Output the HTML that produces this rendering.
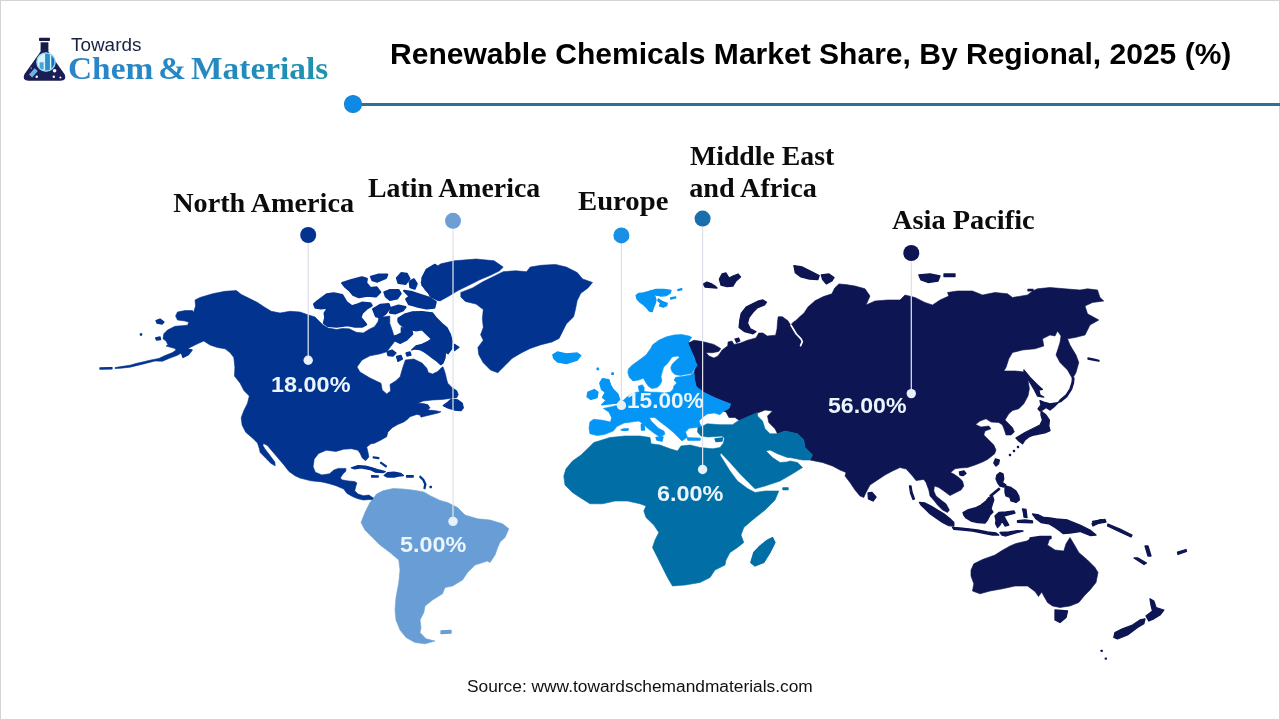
<!DOCTYPE html>
<html lang="en">
<head>
<meta charset="utf-8">
<title>Renewable Chemicals Market Share, By Regional, 2025 (%)</title>
<style>
html,body{margin:0;padding:0;background:#fff;}
body{width:1280px;height:720px;position:relative;overflow:hidden;font-family:"Liberation Sans",sans-serif;}
#frame{position:absolute;left:0;top:0;width:1278px;height:718px;border:1px solid #d4d4d4;}
#map{position:absolute;left:0;top:0;width:1280px;height:720px;}
.t{position:absolute;white-space:nowrap;line-height:1;transform-origin:0 0;}
#title{font-weight:bold;font-family:"Liberation Sans",sans-serif;color:#000;}
#rule{position:absolute;left:353px;top:102.8px;width:927px;height:3.1px;background:#2a7298;}
#ruledot{position:absolute;left:344.1px;top:95.1px;width:16.4px;height:15.6px;border-radius:50%;background:#0d8ae5;border:1px solid #1d7fca;}
.lab{font-weight:bold;font-family:"Liberation Serif",serif;color:#0c0c0c;}
.pct{font-weight:bold;font-family:"Liberation Sans",sans-serif;color:#eaf5fd;}
#src{font-family:"Liberation Sans",sans-serif;color:#111;}
#towards{font-family:"Liberation Sans",sans-serif;color:#1b2140;}
#brand{word-spacing:-0.1em;font-weight:bold;font-family:"Liberation Serif",serif;background:linear-gradient(90deg,#2b85c8 0%,#2489bf 60%,#1f93ac 100%);-webkit-background-clip:text;background-clip:text;color:transparent;}
</style>
</head>
<body>
<div id="frame"></div>
<svg id="map" viewBox="0 0 1280 720" width="1280" height="720">
<g id="land">
<path d="M688.4,337.2 L688.4,343.0 L694.0,340.2 L702.5,341.6 L713.8,344.4 L720.8,348.6 L718.7,351.4 L712.3,352.8 L706.0,352.5 L709.0,356.1 L714.0,358.0 L718.0,356.0 L722.2,350.0 L727.8,345.8 L728.0,342.0 L732.0,341.0 L734.0,344.4 L740.5,343.0 L747.5,340.2 L755.9,338.0 L758.8,333.0 L763.0,333.0 L767.2,336.0 L775.6,335.2 L777.0,329.0 L777.5,322.0 L778.2,316.7 L782.4,316.7 L787.9,320.8 L790.5,325.0 L794.0,321.5 L795.6,320.8 L800.0,316.5 L803.9,313.2 L808.0,306.9 L815.0,300.8 L823.4,296.6 L831.9,293.8 L834.7,288.0 L838.9,283.9 L845.9,284.6 L855.0,286.0 L865.0,288.8 L870.0,296.0 L866.0,305.0 L875.0,301.0 L887.5,300.0 L900.0,300.0 L905.0,295.0 L915.0,297.5 L925.0,302.5 L932.5,305.0 L940.0,300.0 L948.8,296.0 L947.5,292.5 L957.5,291.0 L972.5,291.0 L982.5,295.0 L995.0,292.5 L1007.5,293.8 L1012.5,297.5 L1027.5,295.0 L1032.5,291.0 L1037.5,288.8 L1050.0,287.5 L1065.0,288.8 L1080.0,290.0 L1087.5,288.8 L1097.5,290.0 L1100.0,297.5 L1103.8,301.0 L1092.5,302.5 L1085.0,306.0 L1087.5,313.8 L1098.8,320.0 L1090.0,325.0 L1085.0,335.0 L1075.0,337.5 L1067.5,338.8 L1070.0,345.0 L1076.0,355.0 L1078.8,362.5 L1076.0,372.5 L1072.5,378.8 L1067.5,370.0 L1060.0,362.5 L1056.0,355.0 L1060.0,342.5 L1061.0,336.0 L1057.5,331.0 L1055.0,336.0 L1050.0,335.0 L1042.5,338.8 L1043.8,346.0 L1035.0,348.8 L1022.5,350.0 L1012.5,352.5 L1008.8,358.8 L1006.0,367.5 L1003.8,371.0 L1015.0,371.0 L1025.0,372.0 L1028.0,380.0 L1029.4,388.8 L1028.0,396.0 L1023.8,403.8 L1018.8,408.8 L1012.5,410.6 L1008.8,413.8 L1005.0,420.0 L1008.8,423.8 L1012.5,427.5 L1014.4,432.0 L1011.0,435.0 L1006.0,435.0 L1004.4,430.0 L1002.5,425.0 L998.8,422.5 L991.0,422.0 L986.0,418.8 L980.0,421.0 L975.6,424.4 L981.0,427.0 L988.8,426.0 L991.0,428.8 L985.0,431.0 L983.8,435.0 L988.8,440.0 L993.8,445.0 L996.0,450.0 L994.5,454.0 L992.5,455.5 L987.5,459.4 L982.5,462.0 L975.0,465.0 L967.5,467.5 L960.0,468.0 L955.0,468.8 L950.6,472.5 L953.8,474.0 L958.8,477.5 L962.5,481.0 L963.8,486.0 L961.0,490.0 L955.0,493.0 L950.0,495.6 L943.8,491.0 L938.8,487.5 L934.4,486.0 L933.8,491.0 L936.0,496.0 L941.0,500.0 L946.0,503.8 L949.4,510.0 L947.5,512.5 L942.5,510.0 L937.5,505.0 L934.4,501.0 L930.0,496.0 L928.8,490.0 L926.0,482.5 L923.8,479.4 L916.0,480.6 L912.5,476.0 L906.0,468.8 L905.0,468.8 L900.0,467.5 L892.5,471.0 L885.0,475.0 L877.5,480.0 L870.0,485.0 L866.0,492.5 L863.8,497.5 L860.0,496.0 L855.0,490.0 L850.0,482.5 L845.0,476.0 L846.0,472.5 L840.0,470.0 L832.5,466.0 L822.5,462.5 L810.0,460.0 L812.5,455.0 L805.0,447.5 L803.8,440.0 L797.5,433.8 L785.0,431.0 L777.5,433.8 L775.0,428.8 L768.8,422.5 L767.5,416.0 L772.5,411.0 L765.0,410.0 L757.5,413.0 L748.0,417.0 L740.0,421.0 L735.0,417.5 L728.9,417.5 L726.0,412.0 L723.5,411.2 L728.9,408.5 L730.7,403.9 L723.5,401.2 L714.4,397.6 L703.6,392.2 L696.4,386.8 L694.6,379.6 L694.0,372.4 L696.4,365.1 L694.6,357.9 L691.0,350.7 L688.3,343.5Z" fill="#0e1553" stroke="#0e1553" stroke-width="0.6" stroke-linejoin="round"/>
<path d="M763.0,300.0 L766.5,302.2 L764.4,305.0 L757.3,307.8 L753.1,312.0 L748.9,317.7 L747.5,323.3 L750.3,328.9 L755.9,331.7 L753.1,333.8 L744.7,331.7 L739.1,327.5 L739.8,320.5 L741.2,313.4 L746.1,307.1 L753.1,303.6 L758.8,300.8Z" fill="#0e1553" stroke="#0e1553" stroke-width="1.3" stroke-linejoin="round"/>
<path d="M735.0,339.0 L738.5,338.0 L739.8,341.0 L736.5,342.3Z" fill="#0e1553" stroke="#0e1553" stroke-width="1.3" stroke-linejoin="round"/>
<path d="M703.2,284.0 L707.0,282.0 L711.0,283.5 L715.0,286.0 L717.0,288.0 L711.0,287.5 L705.0,287.0Z" fill="#0e1553" stroke="#0e1553" stroke-width="1.3" stroke-linejoin="round"/>
<path d="M719.4,279.0 L722.0,274.0 L726.0,273.0 L729.0,278.0 L733.0,276.0 L738.0,274.0 L740.5,277.0 L736.0,281.0 L733.0,286.0 L727.0,286.5 L721.0,285.0Z" fill="#0e1553" stroke="#0e1553" stroke-width="1.3" stroke-linejoin="round"/>
<path d="M793.9,265.6 L802.3,267.0 L810.8,271.3 L819.2,275.5 L817.8,279.7 L809.4,279.0 L800.9,276.9 L795.3,272.7Z" fill="#0e1553" stroke="#0e1553" stroke-width="1.3" stroke-linejoin="round"/>
<path d="M821.3,274.8 L829.0,274.0 L834.0,277.6 L831.9,281.0 L826.3,283.9 L822.7,279.7Z" fill="#0e1553" stroke="#0e1553" stroke-width="1.3" stroke-linejoin="round"/>
<path d="M918.8,275.0 L930.0,273.8 L940.0,276.0 L938.0,281.0 L928.0,282.5 L921.0,280.0Z" fill="#0e1553" stroke="#0e1553" stroke-width="1.3" stroke-linejoin="round"/>
<path d="M944.0,274.0 L955.0,274.0 L955.0,276.5 L944.0,276.5Z" fill="#0e1553" stroke="#0e1553" stroke-width="1.3" stroke-linejoin="round"/>
<path d="M1023.8,370.0 L1030.0,377.5 L1037.5,385.0 L1042.5,389.4 L1038.8,390.0 L1040.0,395.0 L1043.8,397.0 L1037.5,396.0 L1033.8,388.8 L1030.0,382.5 L1026.0,376.0Z" fill="#0e1553" stroke="#0e1553" stroke-width="1.3" stroke-linejoin="round"/>
<path d="M1058.8,402.0 L1060.0,400.0 L1066.0,395.0 L1070.0,388.8 L1072.0,382.5 L1072.5,377.5 L1074.0,378.0 L1073.5,383.0 L1071.5,389.5 L1067.0,396.5 L1061.0,401.5Z" fill="#0e1553" stroke="#0e1553" stroke-width="1.3" stroke-linejoin="round"/>
<path d="M1040.0,400.6 L1045.0,402.5 L1050.0,403.8 L1056.0,403.0 L1058.8,402.0 L1053.8,407.0 L1050.0,410.0 L1046.0,407.5 L1042.5,410.0 L1040.0,411.0 L1038.0,408.8 L1041.0,405.0Z" fill="#0e1553" stroke="#0e1553" stroke-width="1.3" stroke-linejoin="round"/>
<path d="M1041.0,411.0 L1046.0,415.0 L1049.4,420.0 L1048.8,426.0 L1050.0,430.6 L1046.0,432.5 L1040.0,433.8 L1033.8,435.0 L1028.8,437.0 L1025.0,440.0 L1022.5,443.8 L1018.8,441.0 L1016.0,438.0 L1020.0,435.6 L1025.0,432.5 L1030.0,430.0 L1035.0,427.5 L1040.0,425.0 L1042.5,420.0 L1041.0,415.0Z" fill="#0e1553" stroke="#0e1553" stroke-width="1.3" stroke-linejoin="round"/>
<path d="M995.5,458.8 L999.4,460.0 L998.5,464.0 L996.0,466.0 L993.8,463.0Z" fill="#0e1553" stroke="#0e1553" stroke-width="1.3" stroke-linejoin="round"/>
<path d="M959.4,472.0 L964.0,471.0 L966.0,473.5 L963.0,475.6 L960.0,475.0Z" fill="#0e1553" stroke="#0e1553" stroke-width="1.3" stroke-linejoin="round"/>
<path d="M868.0,493.0 L872.0,492.5 L876.0,497.0 L873.0,501.0 L868.5,499.0Z" fill="#0e1553" stroke="#0e1553" stroke-width="1.3" stroke-linejoin="round"/>
<path d="M996.9,475.0 L1000.0,472.5 L1003.0,473.8 L1003.8,478.8 L1002.5,482.5 L1006.0,485.0 L1003.8,487.0 L1000.0,486.0 L997.5,482.5 L996.0,478.8Z" fill="#0e1553" stroke="#0e1553" stroke-width="1.3" stroke-linejoin="round"/>
<path d="M1005.0,486.0 L1011.0,487.5 L1016.0,491.0 L1018.8,496.0 L1019.4,500.0 L1016.0,502.5 L1011.0,501.0 L1010.0,497.5 L1006.0,496.0 L1005.0,492.5Z" fill="#0e1553" stroke="#0e1553" stroke-width="1.3" stroke-linejoin="round"/>
<path d="M998.8,488.3 L999.8,489.3 L991.0,496.5 L990.0,495.5Z" fill="#0e1553" stroke="#0e1553" stroke-width="1.3" stroke-linejoin="round"/>
<path d="M963.0,512.5 L967.5,510.0 L975.0,508.0 L981.0,505.0 L986.0,501.0 L988.8,497.5 L992.5,496.0 L993.8,500.0 L992.5,503.8 L991.0,508.8 L993.0,512.0 L990.0,515.0 L987.5,520.0 L985.0,523.0 L977.5,522.5 L971.0,521.0 L966.0,518.0 L963.8,515.0Z" fill="#0e1553" stroke="#0e1553" stroke-width="1.3" stroke-linejoin="round"/>
<path d="M919.4,502.5 L925.0,503.0 L931.0,506.0 L937.5,510.0 L943.8,513.8 L950.0,518.8 L953.8,522.5 L953.8,526.0 L948.8,525.6 L942.5,522.5 L936.0,518.0 L930.0,513.8 L925.0,508.8 L921.0,505.0Z" fill="#0e1553" stroke="#0e1553" stroke-width="1.3" stroke-linejoin="round"/>
<path d="M952.5,527.5 L960.0,528.0 L968.8,528.8 L977.5,530.0 L987.5,532.0 L996.0,533.0 L998.8,535.0 L992.5,535.0 L982.5,533.0 L972.5,531.0 L962.5,530.0 L953.8,529.4Z" fill="#0e1553" stroke="#0e1553" stroke-width="1.3" stroke-linejoin="round"/>
<path d="M1000.0,532.5 L1008.8,532.0 L1017.5,530.6 L1023.0,531.0 L1012.5,533.8 L1006.0,536.0 L1002.0,535.0Z" fill="#0e1553" stroke="#0e1553" stroke-width="1.3" stroke-linejoin="round"/>
<path d="M1030.0,538.0 L1040.0,536.5 L1051.0,536.5 L1051.0,538.5 L1040.0,539.0 L1030.0,539.5Z" fill="#0e1553" stroke="#0e1553" stroke-width="1.3" stroke-linejoin="round"/>
<path d="M995.0,516.0 L998.8,512.5 L1006.0,512.0 L1014.0,511.0 L1015.0,513.0 L1007.5,515.0 L1003.8,516.0 L1006.0,520.0 L1008.8,525.0 L1005.0,526.0 L1002.0,521.0 L1000.0,525.0 L997.5,527.5 L995.6,523.8 L996.0,520.0Z" fill="#0e1553" stroke="#0e1553" stroke-width="1.3" stroke-linejoin="round"/>
<path d="M1022.5,509.0 L1026.0,509.5 L1027.0,517.5 L1024.0,517.0 L1023.5,513.0Z" fill="#0e1553" stroke="#0e1553" stroke-width="1.3" stroke-linejoin="round"/>
<path d="M1017.5,520.6 L1025.0,520.0 L1032.5,521.0 L1032.5,522.8 L1024.0,522.5 L1017.5,522.3Z" fill="#0e1553" stroke="#0e1553" stroke-width="1.3" stroke-linejoin="round"/>
<path d="M1032.5,514.0 L1038.8,515.0 L1043.8,517.5 L1050.0,518.0 L1056.0,518.8 L1067.5,520.0 L1080.0,525.0 L1090.0,530.0 L1096.0,535.0 L1090.0,535.5 L1080.0,531.5 L1070.0,533.0 L1063.0,533.5 L1060.0,531.0 L1055.0,527.5 L1048.8,523.8 L1041.0,522.5 L1036.0,518.8Z" fill="#0e1553" stroke="#0e1553" stroke-width="1.3" stroke-linejoin="round"/>
<path d="M1092.5,521.5 L1105.0,519.5 L1106.0,522.0 L1094.0,524.0Z" fill="#0e1553" stroke="#0e1553" stroke-width="1.3" stroke-linejoin="round"/>
<path d="M1108.0,524.0 L1120.0,529.0 L1132.0,535.0 L1131.0,537.0 L1119.0,531.5 L1107.5,526.0Z" fill="#0e1553" stroke="#0e1553" stroke-width="1.3" stroke-linejoin="round"/>
<path d="M1145.0,546.0 L1148.0,546.0 L1151.0,556.0 L1148.0,556.0Z" fill="#0e1553" stroke="#0e1553" stroke-width="1.3" stroke-linejoin="round"/>
<path d="M1134.0,558.0 L1138.0,558.0 L1146.5,563.0 L1144.0,564.5Z" fill="#0e1553" stroke="#0e1553" stroke-width="1.3" stroke-linejoin="round"/>
<path d="M1177.5,552.0 L1186.0,549.5 L1186.5,551.5 L1178.0,554.5Z" fill="#0e1553" stroke="#0e1553" stroke-width="1.3" stroke-linejoin="round"/>
<path d="M971.0,570.0 L973.8,563.8 L982.5,559.5 L995.0,555.0 L1002.0,550.5 L1010.0,546.0 L1016.0,543.5 L1026.7,541.0 L1032.0,537.8 L1040.0,537.6 L1050.0,537.8 L1047.5,545.0 L1055.0,550.0 L1063.8,551.0 L1066.0,543.8 L1070.0,537.5 L1073.8,543.8 L1078.8,552.5 L1087.5,560.0 L1095.0,567.5 L1098.0,572.5 L1096.0,582.5 L1090.0,590.0 L1085.0,595.0 L1078.8,602.5 L1070.0,606.0 L1060.0,607.5 L1052.5,606.0 L1047.5,602.5 L1043.8,596.0 L1041.8,592.0 L1038.5,596.5 L1035.0,591.5 L1027.5,586.0 L1015.0,586.0 L1002.5,588.8 L990.0,591.0 L980.0,593.8 L972.5,591.0 L973.8,583.8 L971.0,576.0Z" fill="#0e1553" stroke="#0e1553" stroke-width="0.6" stroke-linejoin="round"/>
<path d="M1055.0,610.0 L1067.5,611.0 L1066.0,617.5 L1060.0,622.5 L1055.0,620.0Z" fill="#0e1553" stroke="#0e1553" stroke-width="1.3" stroke-linejoin="round"/>
<path d="M1150.0,598.8 L1153.8,601.0 L1156.0,607.5 L1163.8,610.0 L1160.0,615.0 L1153.8,618.8 L1148.8,621.0 L1146.0,616.0 L1152.5,611.0 L1151.0,605.0Z" fill="#0e1553" stroke="#0e1553" stroke-width="1.3" stroke-linejoin="round"/>
<path d="M1145.0,618.8 L1143.8,623.8 L1137.5,627.5 L1127.5,635.0 L1117.5,639.0 L1113.8,637.5 L1115.0,632.5 L1122.5,628.8 L1132.5,625.0 L1140.0,620.0Z" fill="#0e1553" stroke="#0e1553" stroke-width="1.3" stroke-linejoin="round"/>
<path d="M1101.2,650.3 L1102.2,650.3 L1102.2,651.3 L1101.2,651.3Z" fill="#0e1553" stroke="#0e1553" stroke-width="1.3" stroke-linejoin="round"/>
<path d="M1105.3,658.1 L1106.3,658.1 L1106.3,659.1 L1105.3,659.1Z" fill="#0e1553" stroke="#0e1553" stroke-width="1.3" stroke-linejoin="round"/>
<path d="M909.5,486.0 L911.0,486.0 L912.0,492.0 L914.5,499.0 L913.0,499.5 L910.5,493.0Z" fill="#0e1553" stroke="#0e1553" stroke-width="1.3" stroke-linejoin="round"/>
<path d="M1092.0,523.5 L1096.0,521.0 L1101.0,519.5 L1104.0,520.5 L1100.0,522.5 L1096.0,524.5 L1093.0,526.0Z" fill="#0e1553" stroke="#0e1553" stroke-width="1.3" stroke-linejoin="round"/>
<path d="M1017.5,446.5 L1018.5,446.5 L1018.5,447.5 L1017.5,447.5Z" fill="#0e1553" stroke="#0e1553" stroke-width="1.3" stroke-linejoin="round"/>
<path d="M1013.5,450.5 L1014.5,450.5 L1014.5,451.5 L1013.5,451.5Z" fill="#0e1553" stroke="#0e1553" stroke-width="1.3" stroke-linejoin="round"/>
<path d="M1009.5,454.5 L1010.5,454.5 L1010.5,455.5 L1009.5,455.5Z" fill="#0e1553" stroke="#0e1553" stroke-width="1.3" stroke-linejoin="round"/>
<path d="M1088.0,358.0 L1093.0,359.0 L1099.0,360.4 L1099.0,361.2 L1093.0,360.0 L1088.0,359.0Z" fill="#0e1553" stroke="#0e1553" stroke-width="1.3" stroke-linejoin="round"/>
<path d="M1028.0,289.5 L1033.0,289.3 L1033.0,290.6 L1028.0,290.8Z" fill="#0e1553" stroke="#0e1553" stroke-width="1.3" stroke-linejoin="round"/>
<path d="M598.8,441.0 L610.0,437.5 L625.0,436.0 L640.0,436.0 L650.0,437.5 L651.0,443.8 L660.0,445.0 L670.0,448.8 L677.5,451.0 L681.0,446.0 L690.0,445.0 L700.0,447.5 L712.5,448.8 L720.0,447.5 L723.5,443.0 L724.4,438.0 L722.0,436.0 L716.0,436.5 L708.0,437.0 L701.0,436.0 L697.5,432.0 L698.0,427.0 L701.8,426.5 L707.2,423.8 L719.9,424.7 L732.5,424.7 L737.9,421.1 L748.0,416.5 L757.5,412.5 L757.5,416.0 L762.5,421.0 L765.0,428.8 L770.0,433.8 L777.5,433.8 L785.0,431.0 L797.5,433.8 L803.8,440.0 L805.0,447.5 L812.5,455.0 L810.0,460.0 L802.5,460.0 L790.0,457.5 L787.5,457.5 L777.5,453.8 L770.0,450.0 L766.0,451.0 L772.5,457.5 L780.0,462.5 L787.0,462.0 L790.0,461.0 L797.5,462.5 L802.5,467.5 L792.5,473.8 L780.0,481.0 L765.0,486.0 L755.0,488.8 L750.0,483.8 L740.0,473.8 L730.0,462.5 L721.0,453.0 L720.0,455.0 L722.5,459.0 L730.0,471.0 L737.5,481.0 L747.5,488.5 L755.0,492.5 L765.0,491.0 L778.8,491.0 L775.0,500.0 L765.0,510.0 L752.5,520.0 L743.8,527.5 L741.0,535.0 L743.8,542.5 L737.5,547.5 L730.0,552.5 L726.0,560.0 L725.0,565.0 L715.0,570.0 L710.0,577.5 L700.0,582.5 L685.0,585.0 L672.5,586.0 L667.5,577.5 L662.5,567.5 L657.5,557.5 L652.5,547.5 L655.0,540.0 L658.8,532.5 L653.8,525.0 L646.0,517.5 L643.8,511.0 L646.0,506.0 L640.0,503.8 L627.5,501.0 L615.0,501.0 L602.5,503.8 L590.0,503.8 L580.0,497.5 L572.5,492.5 L565.0,485.0 L563.8,476.0 L566.0,468.8 L572.5,461.0 L581.0,455.0 L588.8,447.5 L593.8,442.5Z" fill="#026ea6" stroke="#026ea6" stroke-width="0.6" stroke-linejoin="round"/>
<path d="M772.5,537.5 L775.0,542.5 L770.0,552.5 L763.8,562.5 L755.0,566.0 L750.8,562.5 L753.8,552.5 L760.0,546.0 L767.5,540.0Z" fill="#026ea6" stroke="#026ea6" stroke-width="1.3" stroke-linejoin="round"/>
<path d="M715.0,439.0 L722.5,438.0 L722.0,441.0 L716.0,441.5Z" fill="#026ea6" stroke="#026ea6" stroke-width="1.3" stroke-linejoin="round"/>
<path d="M783.0,488.0 L788.0,488.0 L788.0,489.5 L783.0,489.5Z" fill="#026ea6" stroke="#026ea6" stroke-width="1.3" stroke-linejoin="round"/>
<path d="M674.9,374.5 L672.1,371.7 L670.7,368.0 L672.1,364.3 L675.8,360.6 L679.6,357.3 L677.7,355.9 L672.1,356.9 L670.3,359.6 L667.5,363.4 L663.7,367.0 L662.3,371.7 L661.0,376.4 L661.9,381.0 L660.0,384.8 L657.2,387.6 L651.6,388.5 L647.9,385.7 L645.6,382.0 L643.3,378.3 L638.6,380.1 L633.0,381.0 L629.3,377.3 L627.9,372.7 L628.4,369.0 L632.1,365.2 L638.6,360.6 L646.0,355.0 L650.7,348.5 L652.6,344.8 L659.1,340.1 L666.5,336.8 L674.0,335.0 L681.4,334.5 L688.9,335.9 L691.7,337.3 L687.9,342.9 L690.7,349.4 L693.5,355.9 L695.4,361.5 L697.3,365.2 L694.5,369.0 L691.7,373.6 L685.2,374.5 L680.5,375.5Z" fill="#0595f5" stroke="#0595f5" stroke-width="0.6" stroke-linejoin="round"/>
<path d="M694.0,372.4 L694.6,379.6 L696.4,386.8 L703.6,392.2 L714.4,397.6 L723.5,401.2 L730.7,403.9 L728.9,408.5 L723.5,411.2 L719.9,414.8 L714.4,413.0 L707.2,413.9 L703.0,417.0 L699.0,421.0 L700.0,424.0 L701.8,426.5 L696.4,427.4 L689.2,428.3 L685.5,431.9 L687.4,437.3 L681.9,440.9 L678.3,437.3 L672.9,431.9 L667.5,427.4 L660.3,422.0 L654.9,417.5 L649.4,417.5 L651.2,421.1 L658.5,428.3 L663.9,431.0 L665.0,434.0 L660.3,437.3 L654.9,433.7 L647.6,428.3 L642.2,422.9 L638.6,421.1 L631.4,422.0 L624.2,422.9 L616.9,426.5 L613.3,431.0 L604.3,434.6 L597.0,435.5 L589.9,433.7 L589.0,428.3 L589.9,422.0 L593.5,419.3 L602.5,420.2 L610.6,422.0 L611.5,417.5 L608.8,412.0 L603.4,408.5 L611.5,406.7 L618.7,404.9 L624.2,399.4 L629.6,394.9 L636.8,392.2 L639.5,392.0 L638.1,386.2 L642.3,384.8 L644.2,387.6 L644.0,391.5 L651.6,392.2 L657.2,392.2 L664.7,393.0 L670.3,392.0 L673.0,389.4 L674.0,385.7 L676.8,382.9 L674.0,380.1 L675.8,377.3 L682.0,376.5 L690.7,375.0Z" fill="#0595f5" stroke="#0595f5" stroke-width="0.6" stroke-linejoin="round"/>
<path d="M602.5,378.7 L608.8,379.6 L610.6,385.0 L613.3,389.5 L617.8,394.0 L619.6,399.4 L616.9,403.0 L607.9,404.0 L601.6,404.9 L606.1,400.3 L602.5,397.6 L605.2,392.2 L601.6,389.5 L599.8,383.2Z" fill="#0595f5" stroke="#0595f5" stroke-width="1.3" stroke-linejoin="round"/>
<path d="M588.0,392.2 L594.4,389.5 L598.0,392.2 L597.0,397.6 L590.8,399.4 L587.0,396.7Z" fill="#0595f5" stroke="#0595f5" stroke-width="1.3" stroke-linejoin="round"/>
<path d="M552.8,354.7 L557.3,352.0 L566.3,353.8 L577.2,352.9 L580.8,355.6 L577.2,360.1 L566.3,363.7 L557.3,361.9 L553.7,358.3Z" fill="#0595f5" stroke="#0595f5" stroke-width="1.3" stroke-linejoin="round"/>
<path d="M636.1,295.6 L638.9,293.3 L643.3,293.0 L647.2,292.0 L651.0,290.6 L653.9,293.3 L655.0,296.7 L656.0,300.0 L655.0,303.9 L653.3,307.8 L652.2,311.7 L649.4,311.0 L646.7,307.8 L643.9,305.0 L640.0,302.2 L637.2,299.4Z" fill="#0595f5" stroke="#0595f5" stroke-width="1.3" stroke-linejoin="round"/>
<path d="M651.7,290.6 L656.0,289.4 L663.9,289.4 L671.0,290.3 L670.0,293.3 L666.0,295.6 L661.7,296.0 L656.0,295.0 L653.9,292.8Z" fill="#0595f5" stroke="#0595f5" stroke-width="1.3" stroke-linejoin="round"/>
<path d="M658.3,298.9 L662.8,301.7 L667.2,303.3 L666.7,305.6 L663.3,307.2 L659.4,306.0 L660.6,303.3 L657.8,300.6Z" fill="#0595f5" stroke="#0595f5" stroke-width="1.3" stroke-linejoin="round"/>
<path d="M677.8,289.6 L681.7,288.6 L681.9,289.6 L678.0,290.6Z" fill="#0595f5" stroke="#0595f5" stroke-width="1.3" stroke-linejoin="round"/>
<path d="M670.6,298.0 L675.6,296.8 L675.8,297.8 L670.8,299.0Z" fill="#0595f5" stroke="#0595f5" stroke-width="1.3" stroke-linejoin="round"/>
<path d="M656.0,437.5 L663.0,437.0 L662.0,441.0 L657.0,440.0Z" fill="#0595f5" stroke="#0595f5" stroke-width="1.3" stroke-linejoin="round"/>
<path d="M641.3,424.5 L644.0,424.5 L644.5,430.0 L641.5,430.0Z" fill="#0595f5" stroke="#0595f5" stroke-width="1.3" stroke-linejoin="round"/>
<path d="M642.0,418.5 L644.0,418.5 L644.0,423.0 L642.0,423.0Z" fill="#0595f5" stroke="#0595f5" stroke-width="1.3" stroke-linejoin="round"/>
<path d="M687.5,438.0 L700.0,438.5 L700.0,440.0 L688.0,440.0Z" fill="#0595f5" stroke="#0595f5" stroke-width="1.3" stroke-linejoin="round"/>
<path d="M597.1,368.2 L598.5,368.2 L598.5,369.6 L597.1,369.6Z" fill="#0595f5" stroke="#0595f5" stroke-width="1.3" stroke-linejoin="round"/>
<path d="M611.9,373.0 L613.3,373.0 L613.3,374.4 L611.9,374.4Z" fill="#0595f5" stroke="#0595f5" stroke-width="1.3" stroke-linejoin="round"/>
<path d="M621.0,429.8 L624.0,429.0 L628.3,429.0 L628.0,430.2 L624.0,430.4Z" fill="#0595f5" stroke="#0595f5" stroke-width="1.3" stroke-linejoin="round"/>
<path d="M115.0,367.6 L121.0,366.6 L130.0,365.2 L136.0,363.5 L142.5,362.0 L150.0,360.2 L158.8,358.4 L165.0,355.6 L172.5,352.6 L176.0,350.0 L175.0,348.5 L166.0,346.0 L168.0,345.0 L166.0,341.0 L163.0,338.8 L163.8,333.8 L167.5,330.0 L175.0,326.3 L187.5,325.3 L188.8,322.3 L185.0,321.0 L177.5,320.0 L175.6,316.0 L177.5,312.0 L185.0,310.6 L192.5,310.6 L193.5,312.5 L195.6,306.0 L195.0,300.0 L200.0,297.5 L212.5,293.8 L225.0,291.3 L236.3,290.6 L241.3,294.4 L250.0,298.8 L257.5,302.5 L265.0,307.5 L271.3,311.3 L280.0,313.0 L290.0,311.3 L300.0,312.0 L307.0,314.5 L315.0,317.0 L322.5,324.5 L328.1,328.0 L336.6,329.5 L342.2,328.5 L349.2,328.8 L356.3,332.3 L363.3,333.0 L368.9,329.5 L374.5,326.7 L378.0,321.7 L378.8,317.5 L384.4,316.8 L389.8,316.0 L389.8,323.5 L392.4,330.8 L394.0,336.0 L395.0,341.0 L390.8,346.5 L386.7,351.7 L380.4,353.8 L370.0,355.8 L362.0,360.0 L357.0,367.0 L360.0,372.0 L370.0,378.0 L381.0,383.3 L382.2,390.0 L386.7,393.9 L390.6,391.0 L390.0,384.4 L395.6,381.0 L400.2,376.7 L401.3,372.5 L403.3,366.0 L405.4,360.0 L413.8,359.0 L422.0,363.0 L426.8,368.3 L428.3,372.5 L432.5,374.0 L437.7,371.5 L441.4,367.8 L443.0,366.8 L445.0,372.5 L447.0,380.8 L447.8,383.3 L452.2,387.8 L456.7,390.6 L458.3,394.4 L456.7,397.8 L452.2,398.2 L442.2,399.4 L432.2,400.0 L423.3,401.0 L417.8,403.3 L423.3,403.6 L427.8,404.6 L430.0,407.8 L427.8,410.0 L434.4,410.6 L441.0,411.7 L438.9,412.8 L432.2,414.4 L425.6,416.0 L421.0,417.2 L420.0,415.0 L416.7,414.4 L410.0,416.7 L406.7,420.0 L403.3,422.2 L397.8,424.4 L392.2,427.8 L387.8,432.2 L386.7,436.7 L381.0,440.0 L374.4,443.3 L371.0,443.7 L366.7,447.0 L367.8,451.4 L368.9,456.9 L365.6,460.7 L362.3,458.0 L360.2,453.6 L358.0,450.3 L351.4,448.7 L343.7,449.2 L336.0,451.4 L326.2,450.3 L318.6,453.6 L314.2,459.0 L313.1,466.7 L315.3,472.2 L321.9,474.9 L329.5,473.8 L333.9,470.0 L338.3,468.4 L345.9,468.4 L345.9,471.0 L342.6,474.4 L340.5,477.7 L341.6,479.8 L348.1,480.9 L354.7,481.5 L356.9,483.0 L355.8,486.4 L354.7,490.8 L358.0,494.0 L363.4,495.7 L368.9,495.0 L372.2,497.3 L374.5,498.5 L373.3,500.3 L370.0,499.5 L363.4,500.0 L358.0,498.8 L352.5,496.6 L347.0,493.4 L343.7,489.0 L336.0,485.7 L328.4,483.4 L321.9,481.9 L310.9,480.8 L300.0,478.1 L295.0,475.7 L289.0,471.5 L283.7,464.7 L274.6,454.0 L267.4,445.5 L263.5,443.5 L262.9,445.5 L265.0,449.0 L270.0,455.5 L274.8,462.0 L275.2,465.8 L271.0,463.4 L265.6,458.0 L260.2,452.5 L259.3,448.4 L257.5,443.0 L253.0,438.5 L245.7,432.2 L242.1,425.0 L241.2,417.7 L243.9,410.5 L247.5,403.3 L249.3,396.0 L243.9,390.6 L240.3,383.4 L234.5,376.0 L234.9,367.0 L233.8,357.5 L230.0,352.5 L225.0,348.8 L217.5,347.5 L210.0,345.0 L203.8,341.0 L197.5,343.8 L190.0,347.5 L183.0,352.0 L177.5,355.3 L170.0,358.0 L162.5,361.2 L155.0,361.0 L147.5,362.9 L137.5,365.4 L130.0,367.2 L121.0,368.2 L115.0,368.6Z" fill="#01338f" stroke="#01338f" stroke-width="0.6" stroke-linejoin="round"/>
<path d="M181.0,352.0 L186.0,348.8 L192.0,350.0 L188.0,355.0 L183.0,357.5Z" fill="#01338f" stroke="#01338f" stroke-width="1.3" stroke-linejoin="round"/>
<path d="M156.0,320.5 L160.0,319.0 L164.0,322.0 L162.0,324.0 L157.0,323.0Z" fill="#01338f" stroke="#01338f" stroke-width="1.3" stroke-linejoin="round"/>
<path d="M155.6,338.0 L160.0,337.0 L160.6,339.5 L156.5,340.0Z" fill="#01338f" stroke="#01338f" stroke-width="1.3" stroke-linejoin="round"/>
<path d="M100.0,368.0 L112.0,367.6 L112.0,368.8 L100.0,369.0Z" fill="#01338f" stroke="#01338f" stroke-width="1.3" stroke-linejoin="round"/>
<path d="M314.1,304.1 L318.3,300.6 L326.7,294.3 L333.8,293.3 L342.2,295.0 L346.4,302.0 L352.0,306.3 L356.3,304.9 L361.9,302.7 L370.3,303.4 L371.7,305.6 L366.1,309.1 L361.9,313.3 L360.5,317.5 L364.0,321.7 L366.1,324.5 L361.9,326.7 L354.9,326.7 L347.8,325.2 L342.2,326.0 L336.6,326.7 L328.1,326.0 L323.9,323.1 L325.3,317.5 L324.6,313.3 L328.1,307.7 L321.1,308.4 L315.5,307.7Z" fill="#01338f" stroke="#01338f" stroke-width="2.2" stroke-linejoin="round"/>
<path d="M342.2,283.0 L350.6,280.2 L361.9,277.4 L366.8,278.8 L366.1,283.0 L370.3,288.0 L376.6,287.3 L380.2,292.2 L375.9,296.4 L367.5,295.7 L359.0,297.1 L353.4,295.0 L349.2,290.1 L345.0,286.6Z" fill="#01338f" stroke="#01338f" stroke-width="2.2" stroke-linejoin="round"/>
<path d="M371.0,276.7 L378.8,274.6 L387.2,274.6 L385.8,278.1 L377.4,281.6 L372.4,280.2Z" fill="#01338f" stroke="#01338f" stroke-width="2.2" stroke-linejoin="round"/>
<path d="M397.0,278.1 L401.3,273.2 L406.9,273.9 L409.4,278.8 L405.5,283.8 L398.5,283.0Z" fill="#01338f" stroke="#01338f" stroke-width="2.2" stroke-linejoin="round"/>
<path d="M409.7,281.6 L413.9,279.3 L416.7,283.8 L414.6,288.7 L410.4,287.3Z" fill="#01338f" stroke="#01338f" stroke-width="2.2" stroke-linejoin="round"/>
<path d="M384.4,292.2 L390.0,290.1 L398.5,290.1 L400.6,293.6 L397.0,298.5 L390.0,299.9 L385.8,296.4Z" fill="#01338f" stroke="#01338f" stroke-width="2.2" stroke-linejoin="round"/>
<path d="M404.1,290.8 L412.5,292.2 L420.9,295.0 L429.4,297.8 L435.7,302.0 L434.3,307.7 L426.6,308.4 L416.7,306.3 L409.0,304.1 L406.2,299.2 L409.7,296.4Z" fill="#01338f" stroke="#01338f" stroke-width="2.2" stroke-linejoin="round"/>
<path d="M422.4,278.1 L426.6,269.7 L435.0,264.8 L439.2,268.3 L442.0,273.9 L449.1,276.0 L452.6,282.3 L451.2,290.8 L444.9,296.4 L438.5,299.9 L430.8,296.4 L427.3,289.4 L422.4,285.2Z" fill="#01338f" stroke="#01338f" stroke-width="2.2" stroke-linejoin="round"/>
<path d="M441.0,263.8 L454.4,260.8 L476.1,259.0 L494.1,260.8 L503.2,267.1 L499.6,270.8 L490.5,275.3 L479.7,279.8 L468.9,285.2 L458.0,290.6 L449.0,296.0 L440.0,301.0 L432.5,297.5 L425.0,290.0 L421.0,282.5 L425.0,273.8 L435.0,267.5Z" fill="#01338f" stroke="#01338f" stroke-width="0.6" stroke-linejoin="round"/>
<path d="M373.1,309.1 L380.2,304.9 L388.6,304.1 L390.0,307.7 L385.8,313.3 L380.2,317.5 L375.9,316.1Z" fill="#01338f" stroke="#01338f" stroke-width="2.2" stroke-linejoin="round"/>
<path d="M391.4,307.7 L398.5,305.6 L405.5,307.0 L402.7,310.5 L395.6,313.3 L390.0,312.6Z" fill="#01338f" stroke="#01338f" stroke-width="2.2" stroke-linejoin="round"/>
<path d="M398.0,318.3 L404.4,314.2 L411.7,312.0 L422.0,311.6 L432.5,313.0 L436.7,318.3 L441.9,323.5 L447.0,327.7 L450.2,334.0 L452.3,341.3 L451.8,348.5 L448.0,353.8 L445.5,352.0 L445.0,358.0 L443.0,363.0 L440.8,364.7 L436.7,361.0 L432.5,358.0 L428.3,354.8 L424.0,351.7 L420.0,349.6 L414.8,349.0 L411.7,350.0 L416.0,346.0 L422.0,344.4 L428.3,341.3 L431.5,339.0 L426.3,334.0 L422.0,329.8 L415.8,330.8 L411.7,329.8 L404.4,327.7 L400.2,324.6 L398.0,321.5Z" fill="#01338f" stroke="#01338f" stroke-width="1.3" stroke-linejoin="round"/>
<path d="M401.3,327.7 L411.7,329.8 L412.7,334.0 L406.5,340.2 L400.2,343.3 L395.0,341.0 L394.0,336.0 L397.0,335.0 L401.3,333.0Z" fill="#01338f" stroke="#01338f" stroke-width="1.3" stroke-linejoin="round"/>
<path d="M387.0,351.5 L392.0,350.0 L396.0,353.0 L393.0,356.0 L388.0,355.5Z" fill="#01338f" stroke="#01338f" stroke-width="1.3" stroke-linejoin="round"/>
<path d="M396.5,356.5 L401.0,355.5 L402.5,359.0 L398.0,361.5Z" fill="#01338f" stroke="#01338f" stroke-width="1.3" stroke-linejoin="round"/>
<path d="M406.0,353.0 L410.0,352.0 L411.0,355.0 L407.0,356.0Z" fill="#01338f" stroke="#01338f" stroke-width="1.3" stroke-linejoin="round"/>
<path d="M454.4,344.4 L459.0,347.3 L454.6,350.6Z" fill="#01338f" stroke="#01338f" stroke-width="1.3" stroke-linejoin="round"/>
<path d="M443.3,405.6 L447.8,402.2 L451.0,399.4 L457.8,400.0 L462.2,403.3 L463.3,407.8 L461.0,410.6 L454.4,410.0 L447.8,407.8Z" fill="#01338f" stroke="#01338f" stroke-width="1.3" stroke-linejoin="round"/>
<path d="M351.4,467.8 L358.0,465.6 L365.6,466.2 L372.2,467.8 L378.8,470.0 L385.3,471.6 L383.1,472.7 L375.5,472.2 L370.0,469.5 L361.2,467.8 L354.7,468.9Z" fill="#01338f" stroke="#01338f" stroke-width="1.3" stroke-linejoin="round"/>
<path d="M384.2,475.5 L387.5,472.7 L394.1,472.2 L400.6,473.3 L403.4,475.5 L398.4,476.0 L394.1,477.1 L387.5,477.1Z" fill="#01338f" stroke="#01338f" stroke-width="1.3" stroke-linejoin="round"/>
<path d="M406.6,475.6 L413.2,475.6 L413.2,477.1 L406.6,477.1Z" fill="#01338f" stroke="#01338f" stroke-width="1.3" stroke-linejoin="round"/>
<path d="M371.6,475.6 L378.2,475.8 L378.2,477.1 L371.6,477.0Z" fill="#01338f" stroke="#01338f" stroke-width="1.3" stroke-linejoin="round"/>
<path d="M420.3,476.2 L423.6,479.4 L425.9,484.2 L424.9,488.6 L424.0,488.4 L424.8,484.2 L422.8,480.0 L419.8,477.0Z" fill="#01338f" stroke="#01338f" stroke-width="1.3" stroke-linejoin="round"/>
<path d="M373.3,456.9 L378.8,457.7 L378.8,458.6 L373.3,457.8Z" fill="#01338f" stroke="#01338f" stroke-width="1.3" stroke-linejoin="round"/>
<path d="M381.0,462.3 L386.4,466.0 L386.0,466.9 L380.5,463.0Z" fill="#01338f" stroke="#01338f" stroke-width="1.3" stroke-linejoin="round"/>
<path d="M460.8,292.4 L472.5,287.9 L483.3,281.6 L494.1,276.2 L503.2,271.7 L515.8,270.8 L526.6,271.7 L530.2,267.1 L541.1,265.3 L555.5,264.4 L566.3,267.1 L577.2,272.6 L582.6,278.9 L592.5,282.5 L588.0,287.9 L580.8,293.3 L577.2,300.5 L575.4,309.6 L573.6,316.8 L566.3,324.0 L562.7,331.2 L559.1,338.4 L551.9,342.0 L541.1,344.7 L530.2,348.4 L521.2,352.9 L512.2,358.3 L505.0,365.5 L497.8,372.7 L490.5,370.0 L483.3,362.8 L478.8,354.7 L477.9,347.5 L483.3,340.2 L480.6,334.8 L483.3,327.6 L482.4,318.6 L483.3,309.6 L476.1,304.1 L465.3,301.4 L460.8,296.9Z" fill="#01338f" stroke="#01338f" stroke-width="0.6" stroke-linejoin="round"/>
<path d="M430.1,486.4 L431.3,486.4 L431.3,487.6 L430.1,487.6Z" fill="#01338f" stroke="#01338f" stroke-width="1.3" stroke-linejoin="round"/>
<path d="M140.4,333.8 L141.6,333.8 L141.6,335.0 L140.4,335.0Z" fill="#01338f" stroke="#01338f" stroke-width="1.3" stroke-linejoin="round"/>
<path d="M372.5,499.8 L376.6,494.0 L383.1,490.8 L393.0,488.6 L402.8,489.0 L413.7,490.2 L423.6,491.9 L431.2,496.2 L440.0,500.4 L447.5,502.5 L457.5,507.5 L465.0,515.0 L477.5,518.8 L490.0,520.0 L502.5,523.8 L508.8,528.8 L505.0,537.5 L500.0,542.0 L497.5,548.0 L495.0,555.0 L490.0,562.5 L487.5,561.0 L475.0,565.0 L467.5,572.5 L462.5,580.0 L452.5,586.0 L445.0,587.5 L442.5,593.8 L432.5,600.0 L425.0,606.0 L423.8,612.5 L420.0,620.0 L421.0,627.5 L420.0,632.5 L426.0,638.8 L435.0,641.0 L425.0,643.8 L415.0,642.5 L406.0,637.5 L400.0,630.0 L396.0,620.0 L395.0,610.0 L396.0,597.5 L398.8,582.5 L400.0,570.0 L398.8,560.0 L390.0,552.5 L380.0,545.0 L372.5,537.5 L365.0,530.0 L361.0,522.5 L365.0,512.5 L370.0,502.5Z" fill="#689ed5" stroke="#689ed5" stroke-width="0.6" stroke-linejoin="round"/>
<path d="M441.0,631.0 L451.0,630.5 L451.0,633.0 L441.0,633.5Z" fill="#689ed5" stroke="#689ed5" stroke-width="1.3" stroke-linejoin="round"/>
<polyline points="791.0,325.2 793.0,328.5 796.3,334.0 801.0,338.9 802.3,341.7 800.6,345.6" fill="none" stroke="#fff" stroke-width="1.7" stroke-linecap="round" stroke-linejoin="round"/>
</g>
<g id="pointers">
<line x1="308.2" y1="235" x2="308.2" y2="360.3" stroke="#dde2ea" stroke-width="1.25"/>
<circle cx="308.2" cy="235" r="8" fill="#01338f"/>
<circle cx="308.2" cy="360.3" r="4.7" fill="#e8f1fb"/>
<line x1="453" y1="220.8" x2="453" y2="521.4" stroke="#dde2ea" stroke-width="1.25"/>
<circle cx="453" cy="220.8" r="8" fill="#6d9fd5"/>
<circle cx="453" cy="521.4" r="4.7" fill="#e8f1fb"/>
<line x1="621.4" y1="235.4" x2="621.4" y2="405.4" stroke="#dde2ea" stroke-width="1.25"/>
<circle cx="621.4" cy="235.4" r="8" fill="#1a8fe6"/>
<circle cx="621.4" cy="405.4" r="4.7" fill="#e8f1fb"/>
<line x1="702.6" y1="218.6" x2="702.6" y2="469.5" stroke="#dde2ea" stroke-width="1.25"/>
<circle cx="702.6" cy="218.6" r="8" fill="#196fab"/>
<circle cx="702.6" cy="469.5" r="4.7" fill="#e8f1fb"/>
<line x1="911.3" y1="253" x2="911.3" y2="393.6" stroke="#dde2ea" stroke-width="1.25"/>
<circle cx="911.3" cy="253" r="8" fill="#0e1553"/>
<circle cx="911.3" cy="393.6" r="4.7" fill="#e8f1fb"/>
</g>
<g id="logo">
<rect x="39" y="37.7" width="11" height="3.3" rx="0.7" fill="#1a1c48"/>
<rect x="40.6" y="42.3" width="7.8" height="7" fill="#1a1c48"/>
<path d="M40.6 49 L48.4 49 L48.4 51.5 L64.6 74.2 Q67.2 80.7 60.5 80.7 L28.5 80.7 Q21.8 80.7 24.4 74.2 L40.6 51.5 Z" fill="#1b1d55"/>
<clipPath id="mg"><circle cx="46" cy="62" r="8.6"/></clipPath>
<circle cx="46" cy="62" r="9.2" fill="#d9f4fd" stroke="#8fdcf7" stroke-width="1.3"/>
<g clip-path="url(#mg)">
<rect x="45.1" y="52" width="4.8" height="20" fill="#2b93c5"/>
<rect x="39.6" y="62.3" width="4" height="7.2" fill="#4aa5d6"/>
<rect x="51.3" y="52" width="3.6" height="18" fill="#1f70c2"/>
</g>
<line x1="36.2" y1="69.6" x2="30.6" y2="76" stroke="#6fb2e4" stroke-width="4.2"/>
<circle cx="54.6" cy="70.8" r="1.8" fill="#fff"/>
<circle cx="36.7" cy="76.7" r="1.2" fill="#fff"/>
<circle cx="53.8" cy="76.8" r="1.2" fill="#fff"/>
<circle cx="60.4" cy="77.4" r="1" fill="#fff"/>
<circle cx="31.2" cy="68.1" r="0.7" fill="#cfe8fb"/>
</g>
</svg>
<div id="rule"></div><div id="ruledot"></div>
<div class="t" id="towards" style="left:70.60px;top:36.00px;font-size:18.7px;transform:scaleX(1.0116)">Towards</div>
<div class="t" id="brand" style="left:67.68px;top:53.00px;font-size:31px;transform:scaleX(1.0768)">Chem &amp; Materials</div>
<div class="t" id="title" style="left:389.76px;top:38.60px;font-size:29.5px;transform:scaleX(1.0182)">Renewable Chemicals Market Share, By Regional, 2025 (%)</div>
<div class="t lab" id="l1" style="left:173.20px;top:188.60px;font-size:28.2px;transform:scaleX(1.0000)">North America</div>
<div class="t lab" id="l2" style="left:368.20px;top:174.40px;font-size:28.2px;transform:scaleX(0.9861)">Latin America</div>
<div class="t lab" id="l3" style="left:578.20px;top:186.60px;font-size:28.2px;transform:scaleX(1.0183)">Europe</div>
<div class="t lab" id="l4" style="left:690.20px;top:142.00px;font-size:28.2px;transform:scaleX(0.9847)">Middle East</div>
<div class="t lab" id="l5" style="left:689.18px;top:173.60px;font-size:28.2px;transform:scaleX(1.0000)">and Africa</div>
<div class="t lab" id="l6" style="left:892.20px;top:206.00px;font-size:28.2px;transform:scaleX(1.0071)">Asia Pacific</div>
<div class="t pct" id="p1" style="left:271.17px;top:373.00px;font-size:22.7px;transform:scaleX(1.0329)">18.00%</div>
<div class="t pct" id="p2" style="left:399.75px;top:533.00px;font-size:22.7px;transform:scaleX(1.0330)">5.00%</div>
<div class="t pct" id="p3" style="left:627.02px;top:388.60px;font-size:22.7px;transform:scaleX(0.9970)">15.00%</div>
<div class="t pct" id="p4" style="left:656.96px;top:482.20px;font-size:22.7px;transform:scaleX(1.0330)">6.00%</div>
<div class="t pct" id="p5" style="left:827.96px;top:394.20px;font-size:22.7px;transform:scaleX(1.0200)">56.00%</div>
<div class="t" id="src" style="left:467.00px;top:678.40px;font-size:17.3px;transform:scaleX(1.0029)">Source: www.towardschemandmaterials.com</div>
</body>
</html>
